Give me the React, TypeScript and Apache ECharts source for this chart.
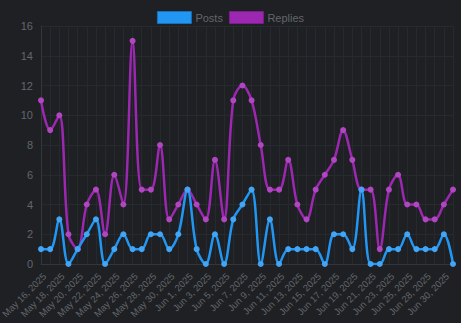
import React, { useEffect, useRef } from "react";
import * as echarts from "echarts";

const dates = [
  "May 16, 2025", "May 17, 2025", "May 18, 2025", "May 19, 2025", "May 20, 2025", "May 21, 2025",
  "May 22, 2025", "May 23, 2025", "May 24, 2025", "May 25, 2025", "May 26, 2025", "May 27, 2025",
  "May 28, 2025", "May 29, 2025", "May 30, 2025", "May 31, 2025", "Jun 1, 2025", "Jun 2, 2025",
  "Jun 3, 2025", "Jun 4, 2025", "Jun 5, 2025", "Jun 6, 2025", "Jun 7, 2025", "Jun 8, 2025",
  "Jun 9, 2025", "Jun 10, 2025", "Jun 11, 2025", "Jun 12, 2025", "Jun 13, 2025", "Jun 14, 2025",
  "Jun 15, 2025", "Jun 16, 2025", "Jun 17, 2025", "Jun 18, 2025", "Jun 19, 2025", "Jun 20, 2025",
  "Jun 21, 2025", "Jun 22, 2025", "Jun 23, 2025", "Jun 24, 2025", "Jun 25, 2025", "Jun 26, 2025",
  "Jun 28, 2025", "Jun 29, 2025", "Jun 30, 2025", "Jul 1, 2025",
];

const posts = [1, 1, 3, 0, 1, 2, 3, 0, 1, 2, 1, 1, 2, 2, 1, 2, 5, 1, 0, 2, 0, 3, 4, 5, 0, 3, 0, 1, 1, 1, 1, 0, 2, 2, 1, 5, 0, 0, 1, 1, 2, 1, 1, 1, 2, 0];
const replies = [11, 9, 10, 2, 1, 4, 5, 2, 6, 4, 15, 5, 5, 8, 3, 4, 5, 4, 3, 7, 3, 11, 12, 11, 8, 5, 5, 7, 4, 3, 5, 6, 7, 9, 7, 5, 5, 1, 5, 6, 4, 4, 3, 3, 4, 5];

const yTicks = { min: 0, max: 16, interval: 2 };

export default function App() {
  const ref = useRef<HTMLDivElement>(null);
  useEffect(() => {
    document.body.style.margin = "0";
    document.body.style.background = "#1e2023";
    const chart = echarts.init(ref.current!, null, { renderer: "svg" });
    const font = "Helvetica, Arial, sans-serif";
    chart.setOption({
      animation: false,
      backgroundColor: "#1e2023",
      legend: {
        top: 6,
        left: "center",
        itemWidth: 34,
        itemHeight: 12,
        itemGap: 6,
        icon: "rect",
        textStyle: { color: "#62666c", fontSize: 11, fontFamily: font, padding: [0, 0, 2, -1] },
        data: [
          { name: "Posts", itemStyle: { color: "#2196f3", borderColor: "#1a6fb5", borderWidth: 1 } },
          { name: "Replies", itemStyle: { color: "#9c27b0", borderColor: "#7a1f8a", borderWidth: 1 } },
        ],
      },
      grid: { left: 41, right: 8, top: 26, bottom: 59, outerBoundsMode: "none", containLabel: false },
      xAxis: {
        type: "category",
        data: dates,
        boundaryGap: false,
        axisLine: { show: true, lineStyle: { color: "#33363b" } },
        axisTick: { show: false },
        axisLabel: {
          interval: 1,
          rotate: 45,
          color: "#62666c",
          fontSize: 9.5,
          fontFamily: font,
          margin: 7,
          verticalAlign: "top",
          lineHeight: 10,
        },
        splitLine: { show: true, interval: 0, lineStyle: { color: "#26292d", width: 1 } },
      },
      yAxis: {
        type: "value",
        min: yTicks.min,
        max: yTicks.max,
        interval: yTicks.interval,
        axisLine: { show: true, lineStyle: { color: "#33363b" } },
        axisTick: { show: false },
        axisLabel: { color: "#62666c", fontSize: 11, fontFamily: font, margin: 8 },
        splitLine: { show: true, lineStyle: { color: "#26292d", width: 1 } },
      },
      series: [
        {
          name: "Posts",
          type: "line",
          data: posts,
          smooth: 0.35,
          symbol: "circle",
          symbolSize: 6,
          showAllSymbol: true,
          lineStyle: { color: "#2196f3", width: 2.5 },
          itemStyle: { color: "#42a5f5" },
          z: 3,
        },
        {
          name: "Replies",
          type: "line",
          data: replies,
          smooth: 0.35,
          symbol: "circle",
          symbolSize: 6,
          showAllSymbol: true,
          lineStyle: { color: "#9c27b0", width: 2.5 },
          itemStyle: { color: "#b146c2" },
          z: 2,
        },
      ],
    });
    return () => chart.dispose();
  }, []);
  return <div ref={ref} style={{ width: 461, height: 323 }} />;
}
